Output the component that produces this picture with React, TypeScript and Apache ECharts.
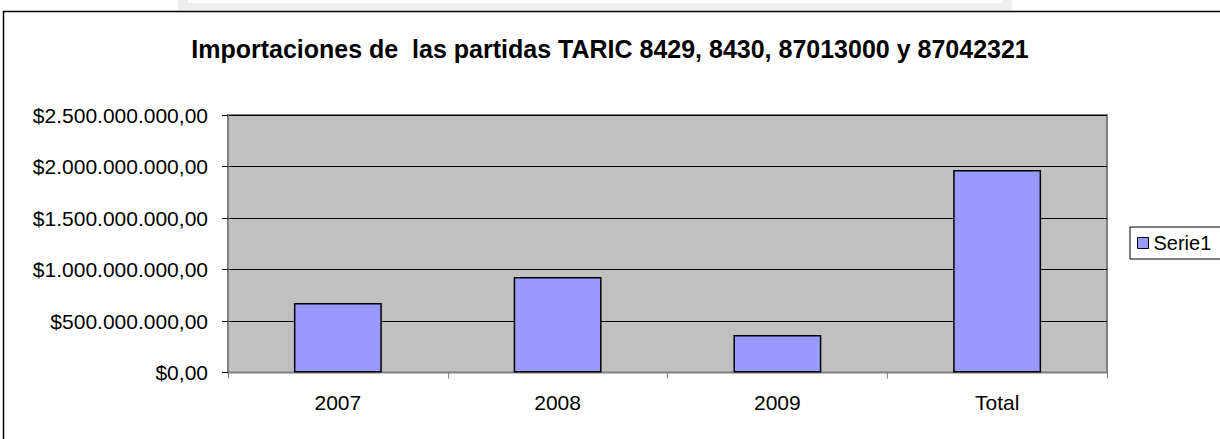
import React, { useEffect, useRef } from "react";
import * as echarts from "echarts";

const categories = ["2007", "2008", "2009", "Total"];
const serie1 = [675000000, 927000000, 364000000, 1966000000];
const seriesName = "Serie1";
const titleText = "Importaciones de  las partidas TARIC 8429, 8430, 87013000 y 87042321";

const FONT = "Arial, 'Liberation Sans', sans-serif";

function fmt(v: number): string {
  const s = Math.round(v).toString().replace(/\B(?=(\d{3})+(?!\d))/g, ".");
  return "$" + s + ",00";
}

export default function App() {
  const ref = useRef<HTMLDivElement>(null);
  useEffect(() => {
    if (!ref.current) return;
    const chart = echarts.init(ref.current, null, { renderer: "svg" });
    chart.setOption({
      animation: false,
      backgroundColor: "#ffffff",
      title: {
        text: titleText,
        left: "center",
        top: 31,
        textStyle: { fontFamily: FONT, fontSize: 25, fontWeight: "bold", color: "#000" },
      },
      legend: {
        show: true,
        left: 1130,
        top: 227,
        orient: "vertical",
        padding: [6, 40, 6, 7],
        borderColor: "#000",
        borderWidth: 1,
        backgroundColor: "#fff",
        itemWidth: 11,
        itemHeight: 11,
        itemGap: 5,
        icon: "rect",
        itemStyle: { borderColor: "#000", borderWidth: 1 },
        textStyle: { fontFamily: FONT, fontSize: 20, color: "#000", padding: [0, 0, 0, 0] },
        data: [seriesName],
      },
      grid: {
        left: 228,
        right: 113,
        top: 115,
        bottom: 66.5,
        show: true,
        backgroundColor: "#C0C0C0",
        borderColor: "#808080",
        borderWidth: 2,
        containLabel: false,
      },
      xAxis: {
        type: "category",
        data: categories,
        boundaryGap: true,
        axisLine: { show: true, lineStyle: { color: "#808080", width: 1 } },
        axisTick: { show: true, inside: false, length: 6, alignWithLabel: false, lineStyle: { color: "#808080" } },
        axisLabel: { fontFamily: FONT, fontSize: 21, color: "#000", margin: 19 },
        splitLine: { show: false },
      },
      yAxis: {
        type: "value",
        min: 0,
        max: 2500000000,
        interval: 500000000,
        axisLine: { show: true, lineStyle: { color: "#808080", width: 1 } },
        axisTick: { show: true, inside: false, length: 6, lineStyle: { color: "#000" } },
        axisLabel: { fontFamily: FONT, fontSize: 21, color: "#000", margin: 20, formatter: (v: number) => fmt(v) },
        splitLine: { show: true, lineStyle: { color: "#000", width: 1 } },
      },
      graphic: [
        { type: "rect", shape: { x: 178, y: 0, width: 834, height: 10 }, style: { fill: "#efedef" }, z: 0 },
        { type: "rect", shape: { x: 188, y: 0, width: 814, height: 3 }, style: { fill: "#ffffff" }, z: 1 },
        {
          type: "rect",
          shape: { x: 3.5, y: 11.5, width: 1400, height: 600 },
          style: { fill: "none", stroke: "#000", lineWidth: 1.5 },
          silent: true,
          z: 100,
        },
      ],
      series: [
        {
          name: seriesName,
          type: "bar",
          data: serie1,
          barWidth: "40%",
          itemStyle: { color: "#9999FF", borderColor: "#000", borderWidth: 1.5 },
        },
      ],
    });
    return () => chart.dispose();
  }, []);
  return (
    <div
      ref={ref}
      style={{ position: "fixed", left: 0, top: 0, width: 1220, height: 439, background: "#fff" }}
    />
  );
}
